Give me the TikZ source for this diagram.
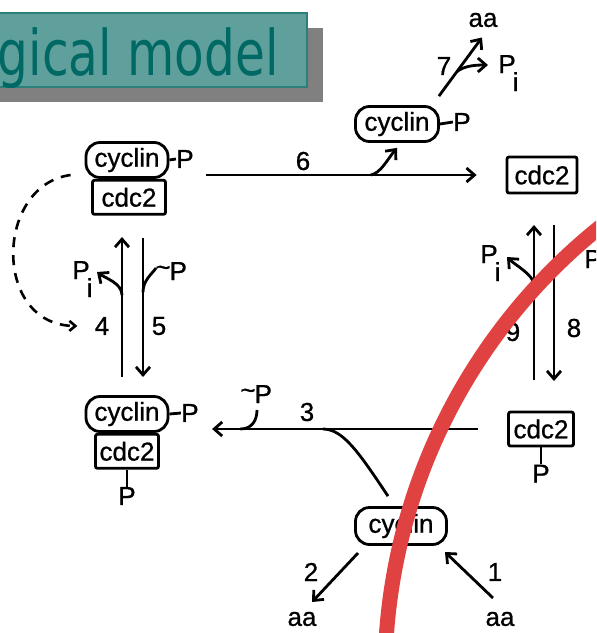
\documentclass[tikz,border=0pt]{standalone}
\usepackage{fontspec}
\setmainfont{Liberation Sans}
\newfontfamily\diagfont{Liberation Sans}[FakeBold=0.8]
\newfontfamily\titlefont{DejaVu Sans}
\usepackage{graphicx}
\usepackage{tikz}
\usetikzlibrary{positioning,arrows.meta,calc}
\usepackage{xcolor}
\definecolor{slideteal}{RGB}{95,160,156}
\definecolor{slidetealdark}{RGB}{0,105,100}
\definecolor{slideedge}{RGB}{45,128,122}
\definecolor{shadowgray}{RGB}{128,128,128}
\definecolor{markred}{RGB}{224,66,66}

\newcommand{\Pinorg}{P\kern-1.5pt\raisebox{-9pt}{i}}
\newcommand{\Ptilde}{\raisebox{2pt}{\textasciitilde}\kern-0.5pt P}

\begin{document}
\begin{tikzpicture}[x=0.5pt, y=-0.5pt,
    every node/.style={inner sep=0pt, font=\diagfont\fontsize{13}{13}\selectfont},
    cyc/.style={draw, line width=1.4pt, rounded corners=7pt, minimum height=17.5pt, minimum width=#1},
    cyc/.default=41pt,
    cdc/.style={draw, line width=1.4pt, rounded corners=1pt, minimum height=17pt, minimum width=#1},
    cdc/.default=35pt,
    rxn/.style={-{Straight Barb[length=4pt, width=7pt]}, line width=1.4pt},
    sidechain/.style={line width=1.4pt},
    feedback/.style={-{Straight Barb[length=3pt, width=5pt]}, line width=1.3pt, dash pattern=on 5pt off 4pt},
]
\useasboundingbox (0,0) rectangle (596,633);
\clip (0,0) rectangle (596,633);
\fill[white] (0,0) rectangle (596,633);

% slide title, cut at the left edge
\fill[shadowgray] (-10,28) rectangle (323,102);
\draw[fill=slideteal, draw=slideedge, line width=0.6pt] (-10,13) rectangle (307,87);
\node[anchor=base east, text=slidetealdark, font=\titlefont\fontsize{31.5}{31.5}\selectfont] (title) at (279,75) {\scalebox{0.77}[1]{ogical model}};

% complexes
\node[cyc] (act_cyclin) at (127,160) {cyclin};
\node[cdc=36.5pt, anchor=north] (act_cdc2) at ([xshift=1pt]act_cyclin.south) {cdc2};
\node (act_p) at (185,159) {P};
\node[cyc] (pre_cyclin) at (127,414) {cyclin};
\node[cdc=31.5pt, anchor=north] (pre_cdc2) at (pre_cyclin.south) {cdc2};
\node (pre_p) at (190,413) {P};
\node[below=8.5pt of pre_cdc2] (pre_p2) {P};

% free forms
\node[cyc=41.5pt] (cyclin_p) at (397,124) {cyclin};
\node (cyclin_pp) at (462,122) {P};
\node[cyc=45.5pt, minimum height=18.5pt] (free_cyclin) at (401,526) {cyclin};
\node[cdc, minimum height=18pt] (cdc2_free) at (542,175) {cdc2};
\node[cdc=32.5pt] (cdc2_p) at (541,429) {cdc2};
\node[below=8.5pt of cdc2_p] (cdc2_pp) {P};

\draw[sidechain] (act_cyclin.east) -- (act_p.west);
\draw[sidechain] (pre_cyclin.east) -- (pre_p.west);
\draw[sidechain] (pre_cdc2.south -| pre_p2.north) -- (pre_p2.north);
\draw[sidechain] (cyclin_p.east) -- (cyclin_pp.west);
\draw[sidechain] (cdc2_p.south) -- (cdc2_pp.north);

% amino acids, phosphates
\node (aa_top) at (483,20) {aa};
\node (aa_out) at (302,619) {aa};
\node (aa_in) at (500,619) {aa};
\node[anchor=base west] (pi7) at (498,73) {\Pinorg};
\node[anchor=base west] (pi4) at (72,279) {\Pinorg};
\node[anchor=base west] (pi9) at (480,263) {\Pinorg};
\node[anchor=base west] (tp5) at (155,280) {\Ptilde};
\node[anchor=base west] (tp3) at (240,403) {\Ptilde};
\node[anchor=base west] (tp8) at (584,268) {P};

% step numbers
\node (lbl1) at (495,572) {1};
\node (lbl2) at (311,572) {2};
\node (lbl3) at (307,412) {3};
\node (lbl4) at (102,326) {4};
\node (lbl5) at (159,326) {5};
\node (lbl6) at (303,161) {6};
\node (lbl7) at (444,66) {7};
\node (lbl8) at (574,328) {8};
\node (lbl9) at (513,332) {9};

% reaction end points
\coordinate (r1a) at (493,598); \coordinate (r1b) at (445,552);
\coordinate (r2a) at (358,553); \coordinate (r2b) at (312,602);
\coordinate (r4a) at (122,377); \coordinate (r4b) at (122,237);
\coordinate (r5a) at (143,238); \coordinate (r5b) at (143,377);
\coordinate (r9a) at (534,380); \coordinate (r9b) at (534,225);
\coordinate (r8a) at (554,225); \coordinate (r8b) at (554,381);
\coordinate (r7a) at ($(cyclin_p.north east)+(-1,-9)$);
\coordinate (r7b) at ($(aa_top.south)+(-1,10)$);

% synthesis and degradation
\draw[rxn] (r1a) -- (r1b);
\draw[rxn] (r2a) -- (r2b);

% step 3
\draw[rxn] ([xshift=-14.5pt]cdc2_p.west) -- ([xshift=6.5pt]pre_p.east |- cdc2_p.west) coordinate (r3b);
\coordinate (b3) at ($([xshift=-14.5pt]cdc2_p.west)!0.584!(r3b)$);
\coordinate (b3p) at ($([xshift=-14.5pt]cdc2_p.west)!0.894!(r3b)$);
\draw[sidechain] ($(free_cyclin.north)+(-13,-10)$) .. controls +(-30,-45) and +(20,0) .. (b3);
\draw[sidechain] (b3p) .. controls +(12,0) and +(0,10) .. (257,410);

% steps 4 and 5
\draw[rxn] (r4a) -- (r4b);
\draw[rxn] (r5a) -- (r5b);
\coordinate (b4) at ($(r4a)!0.585!(r4b)$);
\coordinate (b5) at ($(r5a)!0.39!(r5b)$);
\draw[rxn] (b4) .. controls +(0,-12) and +(8,6) .. (97,272);
\draw[sidechain] (b5) .. controls +(0,-12) and +(-4,6) .. (156,268);
\draw[feedback] ([xshift=-7pt, yshift=-7.5pt]act_cyclin.west) .. controls (-5,185) and (-8,325) .. ([xshift=-8.5pt]lbl4.west);

% step 6
\draw[rxn] ([xshift=6pt]act_p.east |- cdc2_free) -- ([xshift=-14.5pt]cdc2_free.west);
\coordinate (b6) at ($([xshift=6pt]act_p.east |- cdc2_free)!0.55!(cdc2_free.west)$);
\draw[rxn] (b6) .. controls +(10,-2) and +(-10,12) .. ([yshift=-2.5pt]cyclin_p.south);

% step 7
\draw[rxn] (r7a) -- (r7b);
\coordinate (b7) at ($(r7a)!0.42!(r7b)$);
\draw[rxn] (b7) .. controls +(8,-6) and +(-12,0) .. ($(pi7.base west)+(-10,-8)$);

% steps 8 and 9
\draw[rxn] (r9a) -- (r9b);
\draw[rxn] (r8a) -- (r8b);
\coordinate (b9) at ($(r9a)!0.613!(r9b)$);
\draw[rxn] (b9) .. controls +(0,-10) and +(8,8) .. (507,257);

% red mark over the figure
\draw[markred, line width=7.5pt] ($(959,675)+(182:574)$) arc[start angle=182, end angle=242, radius=574];

\end{tikzpicture}
\end{document}
